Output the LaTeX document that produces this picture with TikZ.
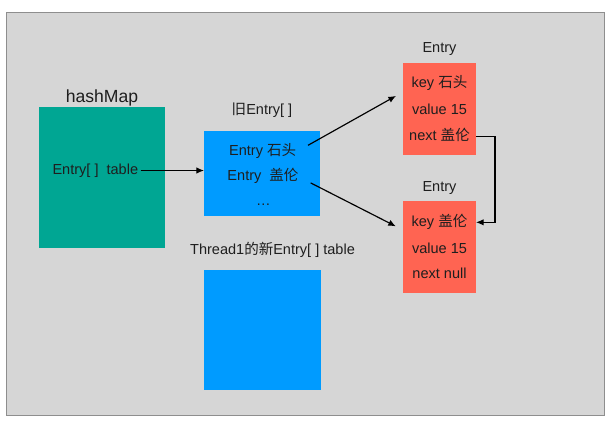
\documentclass[tikz,border=0pt]{standalone}
\usepackage{fontspec}
\setmainfont{Liberation Sans}
\newfontfamily\cjk{Noto Sans CJK SC}
\usetikzlibrary{arrows.meta, positioning, calc}
\definecolor{bggray}{HTML}{D6D6D6}
\definecolor{bgborder}{HTML}{8E8E8E}
\definecolor{mapteal}{HTML}{00A693}
\definecolor{tableblue}{HTML}{009BFF}
\definecolor{entryred}{HTML}{FF6452}
\definecolor{textgray}{HTML}{1E1E1E}

\begin{document}
\begin{tikzpicture}[
      box/.style={inner sep=0pt, outer sep=0pt},
      txt/.style={inner sep=0pt, text=textgray,
        font=\fontsize{12.4}{14}\selectfont, text height=9pt, text depth=2.5pt},
      link/.style={->, line width=1pt},
      >={Latex[length=6.5pt, width=5.5pt]}
    ]
      \useasboundingbox (0,0) rectangle (18.42,12.63);
      \node[box, fill=bggray, draw=bgborder, line width=0.4pt,
        minimum width=17.94cm, minimum height=12.09cm] (bg) at (9.15,6.225) {};

      % boxes
      \node[box, fill=mapteal, minimum width=3.78cm, minimum height=4.23cm]
        (hm) at (3.06,7.305) {};
      \node[box, fill=tableblue, minimum width=3.48cm, minimum height=2.55cm]
        (old) at (7.86,7.425) {};
      \node[box, fill=tableblue, minimum width=3.51cm, minimum height=3.6cm]
        (new) at (7.875,2.73) {};
      \node[box, fill=entryred, minimum width=2.19cm, minimum height=2.76cm]
        (e1) at (13.185,9.36) {};
      \node[box, fill=entryred, minimum width=2.19cm, minimum height=2.76cm]
        (e2) at (13.185,5.22) {};

      % captions
      \node[txt, font=\fontsize{15}{17}\selectfont, text height=11pt,
        text depth=3pt, above=0.03cm of hm] (hmcap) {hashMap};
      \node[txt, above=0.39cm of old] (oldcap) {{\cjk 旧}Entry[ ]};
      \node[txt, above=0.36cm of new, xshift=0.3cm] (newcap)
        {Thread1{\cjk 的新}Entry[ ] table};
      \node[txt, above=0.21cm of e1] (e1cap) {Entry};
      \node[txt, above=0.19cm of e2] (e2cap) {Entry};

      % contents
      \node[txt] (tbl) at ($(hm.center)+(-0.2,0.21)$) {Entry[ ]~~table};
      \node[txt] (stone) at ($(old.center)+(0.02,0.65)$) {Entry {\cjk 石头}};
      \node[txt] (galen) at ($(old.center)+(0.03,-0.1)$) {Entry~~{\cjk 盖伦}};
      \node[txt] (more) at ($(old.center)+(0.04,-0.85)$) {…};
      \node[txt] (e1key) at ($(e1.center)+(0,0.76)$) {key {\cjk 石头}};
      \node[txt] (e1val) at ($(e1.center)+(0,-0.04)$) {value 15};
      \node[txt] (e1next) at ($(e1.center)+(0,-0.83)$) {next {\cjk 盖伦}};
      \node[txt] (e2key) at ($(e2.center)+(0,0.74)$) {key {\cjk 盖伦}};
      \node[txt] (e2val) at ($(e2.center)+(0,-0.09)$) {value 15};
      \node[txt] (e2next) at ($(e2.center)+(0,-0.82)$) {next null};

      % links
      \draw[link, shorten <=2pt] (tbl.east) -- (old.west |- tbl.east);
      \draw[link, shorten <=0.4cm, shorten >=0.24cm] (stone.east) -- (e1.155);
      \draw[link, shorten <=0.4cm, shorten >=0.24cm] (galen.east) -- (e2.155);
      \draw[link] (e1.east |- e1next) -- ++(0.57,0) |- (e2.east |- e2key);
    \end{tikzpicture}
\end{document}
